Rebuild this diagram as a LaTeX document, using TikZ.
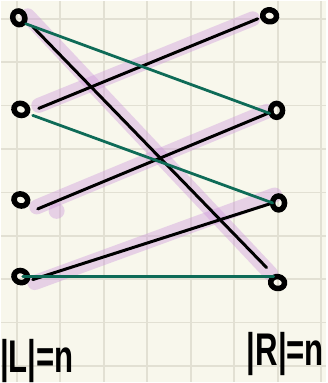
\documentclass[tikz,border=0pt]{standalone}
\usepackage{fontspec}
\setmainfont{Liberation Sans}
\usetikzlibrary{shapes.geometric}
\pgfdeclarelayer{bg}
\pgfdeclarelayer{hl}
\pgfsetlayers{bg,hl,main}
\definecolor{paper}{RGB}{248,247,236}
\definecolor{gridc}{RGB}{226,224,211}
\definecolor{edgegreen}{RGB}{14,107,87}
\definecolor{hlpurple}{RGB}{205,150,220}
\tikzset{
  vtx/.style={ellipse,draw=black,line width=5.5pt,minimum width=12pt,minimum height=14pt,inner sep=0pt},
  matchedge/.style={draw=black,line width=3pt,line cap=round},
  otheredge/.style={draw=edgegreen,line width=2.8pt,line cap=round},
  hilite/.style={draw=hlpurple,opacity=0.4,line width=15pt,line cap=round},
  lbl/.style={font=\fontsize{46}{50}\selectfont\bfseries,inner sep=0pt,xscale=0.68}
}
\begin{document}
\begin{tikzpicture}[x=1pt,y=-1pt]
\begin{pgfonlayer}{bg}
\fill[paper] (0,0) rectangle (327,383);
\foreach \i in {0,...,7} \draw[gridc,line width=1.8pt] ({16+43.7*\i},0) -- ({16+43.7*\i},383);
\foreach \j in {0,...,8} \draw[gridc,line width=1.8pt] (0,{18+43.6*\j}) -- (327,{18+43.6*\j});
\end{pgfonlayer}
\useasboundingbox (0,0) rectangle (327,383);
% vertices
\node[vtx,rotate=20] (L1) at (18,17) {};
\node[vtx,rotate=70] (L2) at (20,109) {};
\node[vtx,rotate=70] (L3) at (20,200) {};
\node[vtx,rotate=70] (L4) at (20,277) {};
\node[vtx,rotate=80] (R1) at (270,15) {};
\node[vtx] (R2) at (277,110) {};
\node[vtx] (R3) at (279,203) {};
\node[vtx,rotate=80] (R4) at (278,283) {};
% highlights
\begin{pgfonlayer}{hl}
\draw[hilite] ([shift={(9,-2)}]L1.center) -- ([shift={(-7,-9)}]R4.center);
\draw[hilite] ([shift={(18,-4)}]L2.center) -- ([shift={(-17,3)}]R1.center);
\draw[hilite] ([shift={(16,7)}]L3.center) -- ([shift={(-10,1)}]R2.center);
\fill[hlpurple,opacity=0.4] (56,211) circle (8pt);
\draw[hilite] ([shift={(14,6)}]L4.center) -- ([shift={(-4,-8)}]R3.center);
\end{pgfonlayer}
% matching edges (black)
\draw[matchedge] ([shift={(14,9)}]L1.center) -- ([shift={(-11,-15)}]R4.center);
\draw[matchedge] ([shift={(18,-1)}]L2.center) -- ([shift={(-12,3)}]R1.center);
\draw[matchedge] ([shift={(17,9)}]L3.center) -- ([shift={(-4,1)}]R2.center);
\draw[matchedge] ([shift={(12,3)}]L4.center) -- ([shift={(-6,0)}]R3.center);
% other edges (green)
\draw[otheredge] ([shift={(7,6)}]L1.center) -- ([shift={(-7,3)}]R2.center);
\draw[otheredge] ([shift={(12,6)}]L2.center) -- ([shift={(-6,0)}]R3.center);
\draw[otheredge] ([shift={(2,0)}]L4.center) -- ([shift={(-4,-6)}]R4.center);
% labels
\node[lbl,anchor=base west] (LL) at (-1,373) {|L|=n};
\node[lbl,anchor=base west] (RL) at (247,366) {|R|=n};
\end{tikzpicture}
\end{document}
